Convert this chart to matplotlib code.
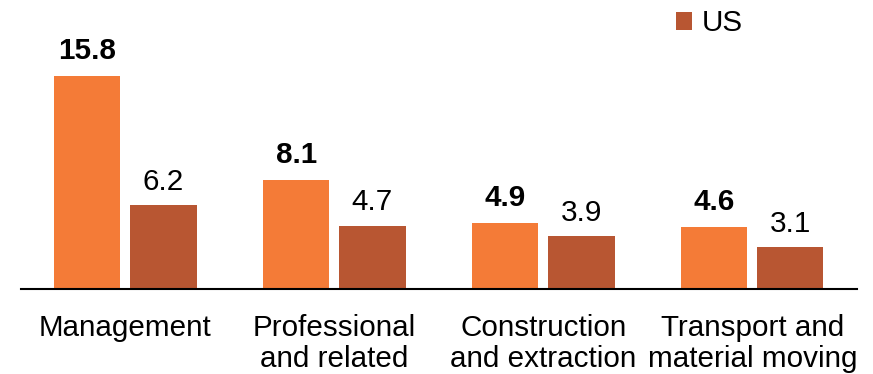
import numpy as np
import matplotlib.pyplot as plt

plt.rcParams['font.family'] = ['Liberation Sans', 'DejaVu Sans']

categories = ['Management', 'Professional\nand related', 'Construction\nand extraction', 'Transport and\nmaterial moving']
group_vals = [15.8, 8.1, 4.9, 4.6]
us_vals = [6.2, 4.7, 3.9, 3.1]

ORANGE = '#F47B37'
RUST = '#B85632'
FS = 21.3

fig = plt.figure(figsize=(8.73, 3.74), dpi=100)
ax = fig.add_axes([0.024, 0.2273, 0.9576, 0.6123])

x = np.arange(len(categories))
w = 0.316
off = 0.182
b1 = ax.bar(x - off, group_vals, w, color=ORANGE)
b2 = ax.bar(x + off, us_vals, w, color=RUST, label='US')

for rect, v in zip(b1, group_vals):
    ax.annotate(f'{v:.1f}', (rect.get_x() + rect.get_width() / 2, v),
                xytext=(0, 8), textcoords='offset points',
                ha='center', va='bottom', fontsize=FS, fontweight='bold')
for rect, v in zip(b2, us_vals):
    ax.annotate(f'{v:.1f}', (rect.get_x() + rect.get_width() / 2, v),
                xytext=(0, 7), textcoords='offset points',
                ha='center', va='bottom', fontsize=FS)

ax.set_xlim(-0.5, 3.5)
ax.set_ylim(0, 17)
ax.set_yticks([])
ax.set_xticks(x)
ax.set_xticklabels(categories, fontsize=FS, linespacing=1.12)
ax.tick_params(axis='x', length=0, pad=18)
for s in ['top', 'right', 'left']:
    ax.spines[s].set_visible(False)
ax.spines['bottom'].set_linewidth(1.5)

leg = ax.legend(loc='upper left', bbox_to_anchor=(0.783, 1.222), frameon=False,
                fontsize=FS, handlelength=0.55, handleheight=0.55, handletextpad=0.35,
                borderpad=0, borderaxespad=0)

fig.savefig('out.png', dpi=100)
